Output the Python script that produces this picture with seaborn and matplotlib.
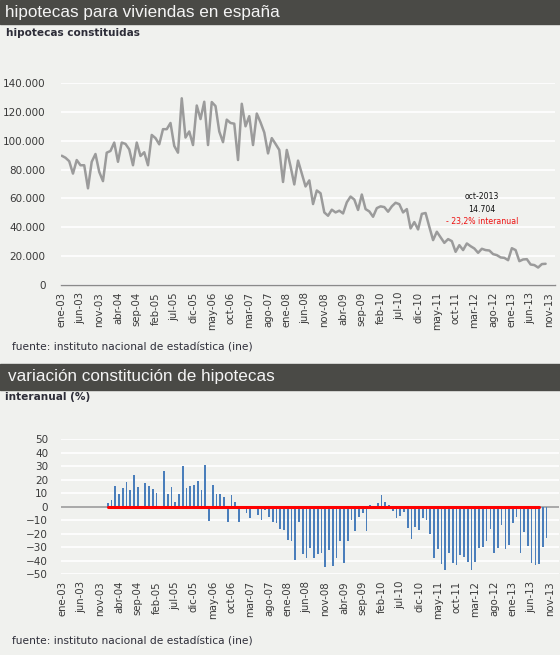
import numpy as np
import matplotlib
matplotlib.use("Agg")
import matplotlib.pyplot as plt
from matplotlib.patches import Rectangle
import seaborn as sns

# ------------------------------------
# DATA
# ------------------------------------

# hipotecas constituidas, ene-03 .. oct-13
hipotecas = [
    89600, 88200, 85800, 77200, 86600, 83000, 83000, 67000, 85400, 90800, 78400, 72000,
    91700, 92900, 98700, 85400, 98700, 97800, 94000, 83000, 98700, 89400, 92000, 83000,
    104000, 101800, 97500, 108000, 108000, 112300, 96400, 91700, 129400, 102200, 106400, 97000,
    124400, 115000, 127000, 97000, 126800, 124000, 106400, 99000, 114600, 112300, 111800, 86600,
    125600, 110000, 117000, 97000, 118800, 112700, 105700, 91200, 101800, 97800, 93600, 71400,
    93600, 82300, 69700, 86200, 77200, 68300, 72500, 56100, 65500, 63600, 50300, 48000,
    52200, 50300, 51500, 49600, 57300, 61300, 59200, 52000, 62700, 52600, 51000, 47300,
    53300, 54500, 54000, 50800, 54500, 57000, 56000, 50300, 52600, 39200, 43600, 38500,
    49300, 49900, 40300, 31100, 36900, 33000, 29200, 31800, 30400, 23000, 27600, 24200,
    28800, 26900, 25300, 22300, 25100, 24200, 23900, 21400, 20700, 19100, 18800, 17200,
    25500, 24200, 16500, 17700, 17900, 14200, 13800, 12100, 14500, 14704,
]

# variacion interanual (%), ene-04 .. oct-13
variacion = [
    2.7, 5.0, 15.4, 9.4, 13.9, 18.4, 12.4, 23.6, 14.6, -1.7, 17.9, 15.4,
    13.2, 10.2, -1.5, 26.6, 9.4, 14.6, 3.7, 9.4, 30.3, 13.9, 15.4, 16.1,
    19.1, 12.4, 31.0, -10.4, 16.1, 9.4, 9.4, 7.2, -11.2, 8.7, 3.5, -11.2,
    0.8, -4.5, -8.2, -0.3, -6.2, -9.9, -2.5, -7.4, -11.2, -11.9, -16.4, -17.4,
    -24.8, -25.3, -39.7, -11.2, -35.2, -38.0, -30.5, -38.0, -35.2, -34.2, -44.7, -32.3,
    -43.9, -38.0, -25.6, -41.7, -25.6, -9.9, -17.9, -7.4, -4.5, -17.9, 1.2, -2.0,
    2.7, 8.7, 3.7, 1.2, -3.0, -8.2, -6.7, -3.7, -15.6, -24.3, -14.9, -17.4,
    -8.2, -9.9, -20.1, -38.0, -31.8, -42.4, -46.7, -34.2, -41.7, -43.2, -35.7, -37.2,
    -40.9, -46.7, -41.4, -31.0, -30.3, -25.3, -16.9, -34.7, -31.0, -13.4, -31.8, -28.1,
    -12.4, -7.9, -34.2, -18.6, -29.0, -41.7, -43.4, -42.7, -29.8, -23.2,
]

etiquetas = [
    "ene-03", "jun-03", "nov-03", "abr-04", "sep-04", "feb-05", "jul-05",
    "dic-05", "may-06", "oct-06", "mar-07", "ago-07", "ene-08", "jun-08",
    "nov-08", "abr-09", "sep-09", "feb-10", "jul-10", "dic-10", "may-11",
    "oct-11", "mar-12", "ago-12", "ene-13", "jun-13", "nov-13",
]

meses = np.arange(len(hipotecas))                 # 0 = ene-03
meses_var = np.arange(12, 12 + len(variacion))    # from ene-04
meses_ref = np.arange(12, 128)                    # red reference line
ref = np.zeros(len(meses_ref))
ticks = np.arange(0, 5 * len(etiquetas), 5)

# ------------------------------------
# STYLE
# ------------------------------------

W, H = 560, 655
BG = "#f0f1ee"
BAND = "#4a4a46"
TXT = "#3a3a3a"
FUENTE = "fuente: instituto nacional de estadística (ine)"

sns.set_style("white")
plt.rcParams["font.family"] = ["DejaVu Sans"]

fig = plt.figure(figsize=(W / 100, H / 100), dpi=100, facecolor=BG)


def rect(l, t, r, b):
    return [l / W, 1 - b / H, (r - l) / W, (b - t) / H]


# header bands
for top, bot in [(0, 24), (364, 390)]:
    fig.patches.append(Rectangle((0, 1 - bot / H), 1, (bot - top) / H,
                                 transform=fig.transFigure, color=BAND, zorder=0))

fig.text(5 / W, 1 - 12 / H, "hipotecas para viviendas en españa", color="#f4f4f4",
         fontsize=12.3, family="Liberation Sans", va="center", ha="left")
fig.text(8 / W, 1 - 377 / H, "variación constitución de hipotecas", color="#f4f4f4",
         fontsize=12.3, family="Liberation Sans", va="center", ha="left")

fig.text(6 / W, 1 - 32.5 / H, "hipotecas constituidas", color="#2d2d38",
         fontsize=7.6, weight="bold", va="center")
fig.text(5 / W, 1 - 397 / H, "interanual (%)", color="#2d2d38",
         fontsize=7.6, weight="bold", va="center")

fig.text(12 / W, 1 - 348 / H, FUENTE, color="#2d2d38", fontsize=7.7, va="center")
fig.text(12 / W, 1 - 642 / H, FUENTE, color="#2d2d38", fontsize=7.7, va="center")

# ------------------------------------
# HIPOTECAS CONSTITUIDAS
# ------------------------------------

ax1 = fig.add_axes(rect(60.7, 83, 555, 285))
ax1.set_facecolor(BG)

sns.lineplot(x=meses, y=hipotecas, ax=ax1, color="#9b9b9b", lw=1.8, zorder=3)

ax1.set_xlim(-0.27, 131.5)
ax1.set_ylim(0, 140000)
ax1.set_yticks(np.arange(0, 140001, 20000))
ax1.set_yticklabels([f"{v:,}".replace(",", ".") for v in range(0, 140001, 20000)])
ax1.set_xticks(ticks)
ax1.set_xticklabels(etiquetas, rotation=90)
ax1.grid(axis="y", color="white", lw=1.2)
ax1.grid(axis="x", visible=False)
ax1.set_axisbelow(True)
for s in ["top", "right", "left"]:
    ax1.spines[s].set_visible(False)
ax1.spines["bottom"].set_color("#8a8a8a")
ax1.spines["bottom"].set_linewidth(1.0)
ax1.tick_params(axis="x", length=3, width=0.8, color="#8a8a8a", pad=2,
                labelsize=7.3, labelcolor=TXT)
ax1.tick_params(axis="y", length=0, pad=11, labelsize=7.5, labelcolor=TXT)
ax1.set_xlabel("")
ax1.set_ylabel("")

ax1.text(112, 61000, "oct-2013", ha="center", va="center", fontsize=5.6, color="#111111")
ax1.text(112, 52000, "14.704", ha="center", va="center", fontsize=5.6, color="#111111")
ax1.text(112, 43700, "- 23,2% interanual", ha="center", va="center", fontsize=5.6,
         color="#ee1111")

# ------------------------------------
# VARIACION INTERANUAL
# ------------------------------------

ax2 = fig.add_axes(rect(60.7, 439.3, 559, 574))
ax2.set_facecolor(BG)

sns.barplot(x=meses_var, y=variacion, ax=ax2, native_scale=True, width=0.45,
            color="#4a7ebb", saturation=1, errorbar=None, linewidth=0, zorder=3)
for p in ax2.patches:
    p.set_antialiased(False)
ax2.axhline(0, color="#9a9a9a", lw=1.2, zorder=2)
sns.lineplot(x=meses_ref, y=ref, ax=ax2, color="#ff0000", lw=2.2, zorder=4)

ax2.set_xlim(-0.53, 132.3)
ax2.set_ylim(-50, 50)
ax2.set_yticks(np.arange(-50, 51, 10))
ax2.set_xticks(ticks)
ax2.set_xticklabels(etiquetas, rotation=90)
ax2.grid(axis="y", color="white", lw=1.2)
ax2.grid(axis="x", visible=False)
ax2.set_axisbelow(True)
for s in ["top", "right", "left", "bottom"]:
    ax2.spines[s].set_visible(False)
ax2.tick_params(axis="x", length=0, pad=5, labelsize=7.3, labelcolor=TXT)
ax2.tick_params(axis="y", length=0, pad=9, labelsize=7.5, labelcolor=TXT)
ax2.set_xlabel("")
ax2.set_ylabel("")

fig.savefig("out.png", dpi=100, facecolor=BG)
